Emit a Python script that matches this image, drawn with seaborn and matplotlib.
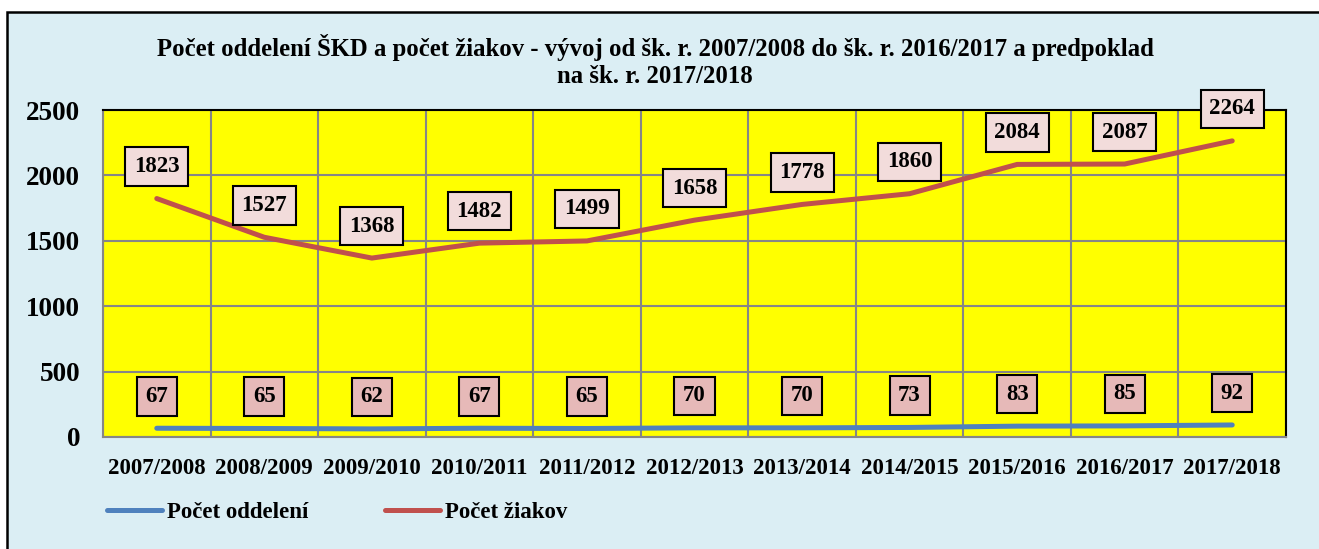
import pandas as pd
import matplotlib.pyplot as plt
import matplotlib.patches as mpatches
from matplotlib.ticker import FixedLocator
import seaborn as sns

# School years
years = ['2007/2008', '2008/2009', '2009/2010', '2010/2011', '2011/2012', '2012/2013',
         '2013/2014', '2014/2015', '2015/2016', '2016/2017', '2017/2018']
# Počet oddelení
oddelenia = [67, 65, 62, 67, 65, 70, 70, 73, 83, 85, 92]
# Počet žiakov
ziaci = [1823, 1527, 1368, 1482, 1499, 1658, 1778, 1860, 2084, 2087, 2264]
y_ticks = [0, 500, 1000, 1500, 2000, 2500]

title = ('Počet oddelení ŠKD a počet žiakov - vývoj od šk. r. 2007/2008 do šk. r. 2016/2017 a predpoklad\n'
         'na šk. r. 2017/2018')

sns.set_theme(style='white')
plt.rcParams['font.family'] = ['Liberation Serif', 'DejaVu Serif']
plt.rcParams['font.weight'] = 'bold'
plt.rcParams['text.color'] = 'black'
plt.rcParams['xtick.color'] = 'black'
plt.rcParams['ytick.color'] = 'black'

BG = '#DBEEF4'
df = pd.DataFrame({'x': range(len(years)), 'year': years,
                   'Počet oddelení': oddelenia, 'Počet žiakov': ziaci})

fig = plt.figure(figsize=(13.19, 5.49), dpi=100)
fig.patch.set_facecolor('white')
# outer chart border (right and bottom edges fall outside the image)
fig.patches.append(mpatches.Rectangle((7 / 1319, -0.05), 1.0, 1 - 12 / 549 + 0.05,
                                      transform=fig.transFigure, facecolor=BG,
                                      edgecolor='black', linewidth=1.8, zorder=-5))

ax = fig.add_axes([103 / 1319, 1 - 437 / 549, (1286 - 103) / 1319, (437 - 110) / 549])
ax.set_zorder(2)
ax.set_facecolor('#FFFF00')

sns.lineplot(data=df, x='x', y='Počet oddelení', ax=ax, color='#4F81BD', linewidth=3.6,
             label='Počet oddelení', solid_capstyle='round')
sns.lineplot(data=df, x='x', y='Počet žiakov', ax=ax, color='#C0504D', linewidth=3.6,
             label='Počet žiakov', solid_capstyle='round')

# data labels
for xi, v in zip(df['x'], df['Počet žiakov']):
    ax.annotate(str(v), (xi, v), xytext=(0, 23), textcoords='offset points',
                ha='center', va='center', fontsize=16.5, fontweight='bold',
                bbox=dict(boxstyle='square,pad=0.38', fc='#F2DCDB', ec='black', lw=1.5))
for xi, v in zip(df['x'], df['Počet oddelení']):
    ax.annotate(str(v), (xi, v), xytext=(0, 23), textcoords='offset points',
                ha='center', va='center', fontsize=16.5, fontweight='bold',
                bbox=dict(boxstyle='square,pad=0.38', fc='#E6B9B8', ec='black', lw=1.5))

ax.set_xlim(-0.5, len(years) - 0.5)
ax.set_ylim(0, 2500)
ax.set_xticks(range(len(years)))
ax.set_xticklabels(years, fontsize=16.5, fontweight='bold')
ax.xaxis.set_minor_locator(FixedLocator([i - 0.5 for i in range(len(years) + 1)]))
ax.set_yticks(y_ticks)
ax.set_yticklabels([str(t) for t in y_ticks], fontsize=19.5, fontweight='bold')
ax.tick_params(axis='x', which='major', length=0, pad=15)
ax.tick_params(axis='x', which='minor', length=7, color='#868686', width=1.5, direction='out')
ax.tick_params(axis='y', length=7, color='#868686', width=1.5, direction='out', pad=9.5)
ax.grid(axis='y', which='major', color='#868686', linewidth=1.5)
ax.grid(axis='x', which='minor', color='#868686', linewidth=1.5)
ax.set_axisbelow(True)
ax.set_xlabel('')
ax.set_ylabel('')

for s in ['top', 'right']:
    ax.spines[s].set_color('black')
    ax.spines[s].set_linewidth(1.5)
for s in ['left', 'bottom']:
    ax.spines[s].set_color('#868686')
    ax.spines[s].set_linewidth(1.5)

fig.text(655 / 1319, 1 - 61 / 549, title, ha='center', va='center', fontsize=17.8,
         fontweight='bold', linespacing=1.2)

leg = ax.legend(loc='center left', bbox_to_anchor=(107 / 1319, 1 - 512 / 549),
                bbox_transform=fig.transFigure, borderaxespad=0, borderpad=0,
                ncol=2, frameon=False, fontsize=16.5, handlelength=2.4, handletextpad=0.22,
                columnspacing=3.36)
for t in leg.get_texts():
    t.set_fontweight('bold')

fig.savefig('out.png', dpi=100, facecolor=fig.get_facecolor())
